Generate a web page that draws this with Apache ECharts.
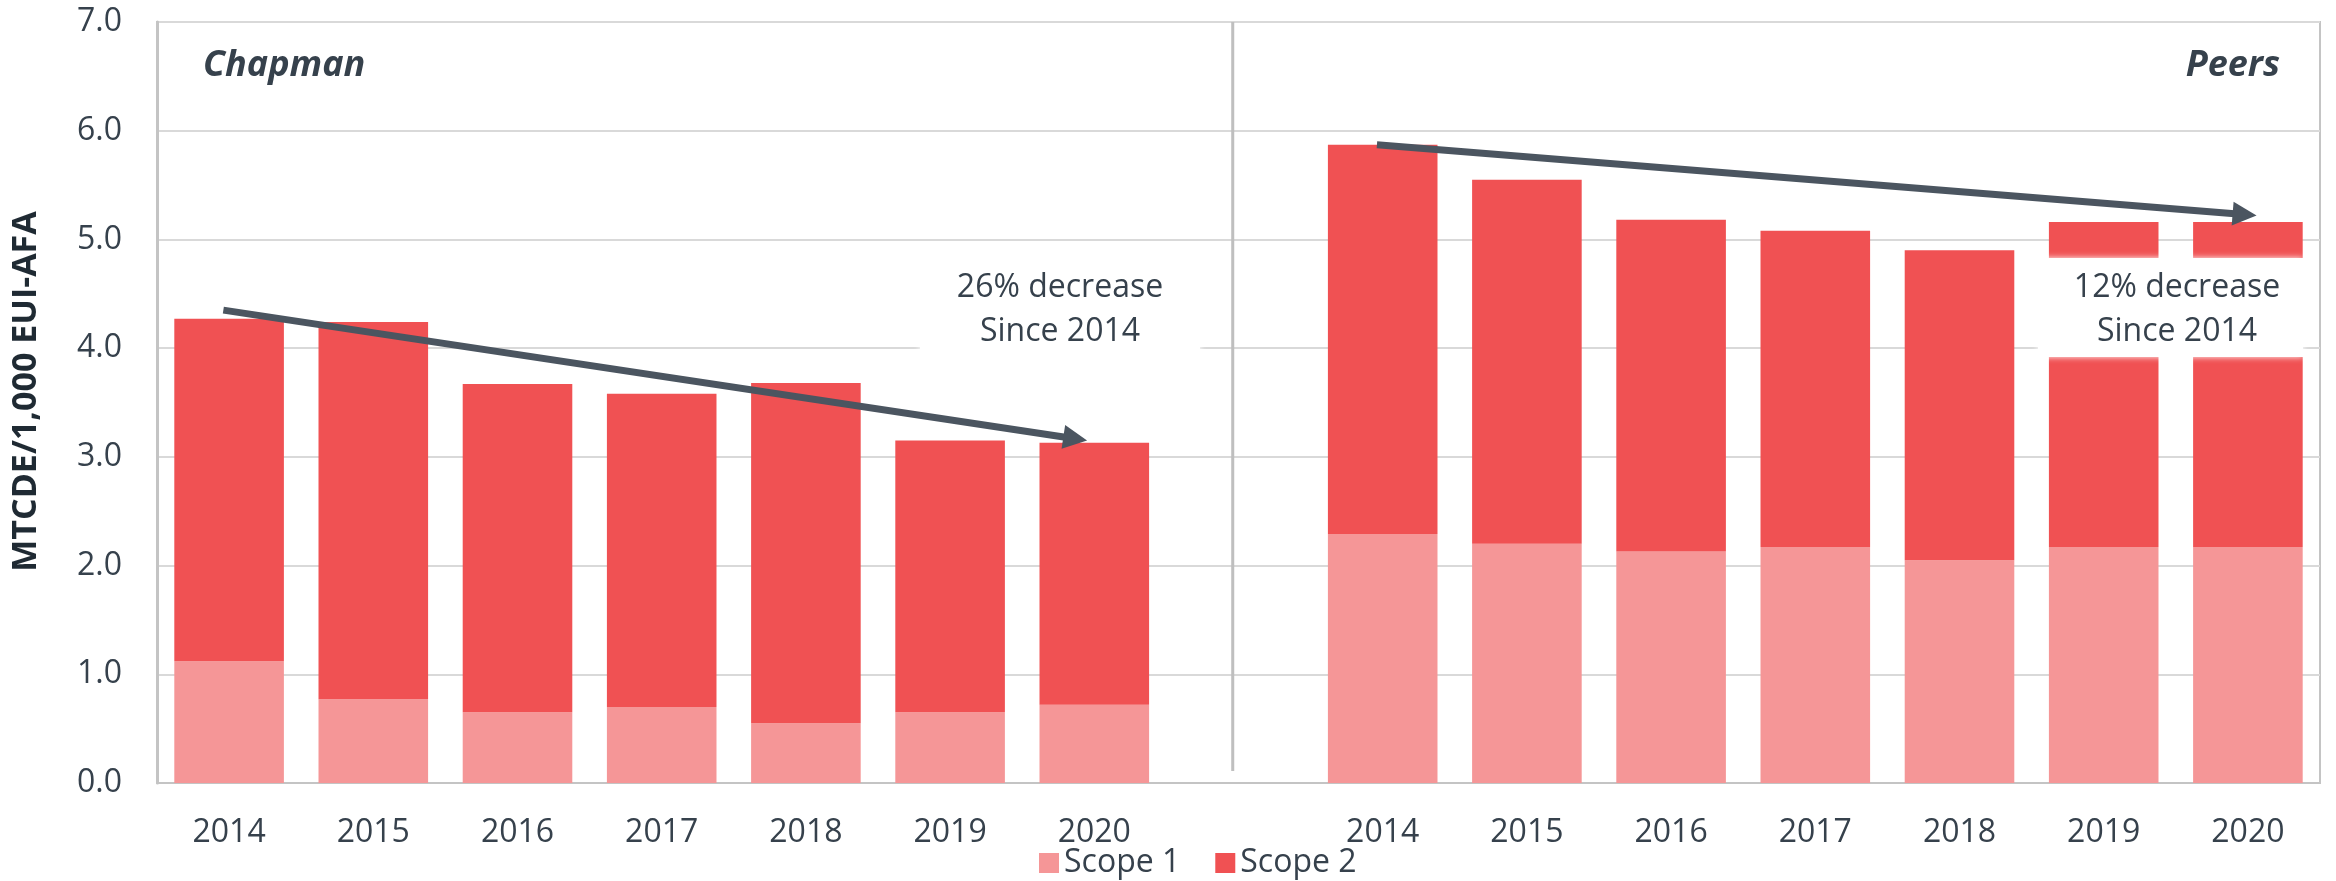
<!DOCTYPE html>
<html lang="en">
<head>
    <meta charset="UTF-8">
    <title>Scope 1 and Scope 2 emissions</title>
    <script src="https://cdn.jsdelivr.net/npm/echarts@6.0.0/dist/echarts.min.js"></script>
    <style>
        html, body { margin: 0; padding: 0; background: #fff; }
        #chart { width: 2336px; height: 881px; }
    </style>
</head>
<body>
    <div id="chart"></div>
    <script>
        // values
        var years = ['2014', '2015', '2016', '2017', '2018', '2019', '2020'];
        var chapmanScope1 = [1.12, 0.77, 0.65, 0.70, 0.55, 0.65, 0.72];
        var chapmanScope2 = [3.15, 3.47, 3.02, 2.88, 3.13, 2.50, 2.41];
        var peersScope1 = [2.29, 2.20, 2.13, 2.17, 2.05, 2.17, 2.17];
        var peersScope2 = [3.58, 3.35, 3.05, 2.91, 2.85, 2.99, 2.99];
        var yMin = 0, yMax = 7, yStep = 1;
        // trend arrows [slotFrom, valueFrom, slotTo, valueTo] on the hidden value x axis
        var chapmanTrend = [-0.04, 4.35, 5.95, 3.15];
        var peersTrend = [7.96, 5.87, 14.06, 5.22];
        var dividerLine = [6.96, 7, 6.96, 0.11];

        var textColor = '#36414C';
        var arrowColor = '#4B5560';
        var font = 'Open Sans';

        // one category axis: chapman years, a blank slot, peers years
        var categories = years.concat([''], years);
        var scope1 = chapmanScope1.concat([null], peersScope1);
        var scope2 = chapmanScope2.concat([null], peersScope2);

        var chart = echarts.init(document.getElementById('chart'));

        function renderArrow(params, api) {
            var p1 = api.coord([api.value(0), api.value(1)]);
            var p2 = api.coord([api.value(2), api.value(3)]);
            var dx = p2[0] - p1[0], dy = p2[1] - p1[1];
            var len = Math.sqrt(dx * dx + dy * dy);
            var ux = dx / len, uy = dy / len;
            var head = 24, half = 12;
            var bx = p2[0] - ux * head, by = p2[1] - uy * head;
            return {
                type: 'group',
                children: [{
                    type: 'line',
                    shape: { x1: p1[0], y1: p1[1], x2: bx + ux * 2, y2: by + uy * 2 },
                    style: { stroke: arrowColor, lineWidth: 7 }
                }, {
                    type: 'polygon',
                    shape: { points: [p2, [bx - uy * half, by + ux * half], [bx + uy * half, by - ux * half]] },
                    style: { fill: arrowColor }
                }]
            };
        }

        function renderDivider(params, api) {
            var p1 = api.coord([api.value(0), api.value(1)]);
            var p2 = api.coord([api.value(2), api.value(3)]);
            return {
                type: 'line',
                shape: { x1: p1[0], y1: p1[1], x2: p2[0], y2: p2[1] },
                style: { stroke: '#BFBFBF', lineWidth: 3 }
            };
        }

        var option = {
            animation: false,
            textStyle: { fontFamily: font },
            grid: {
                left: 157, right: 16, top: 22, bottom: 98,
                show: true, borderColor: '#C4C4C4', borderWidth: 2
            },
            legend: {
                data: ['Scope 1', 'Scope 2'],
                left: 1039, top: 847, padding: 0,
                itemWidth: 20, itemHeight: 20, itemGap: 35,
                icon: 'rect',
                textStyle: { fontSize: 32, color: textColor, fontFamily: font }
            },
            xAxis: [{
                type: 'category',
                data: categories,
                axisTick: { show: false },
                axisLine: { onZero: false, lineStyle: { color: '#C4C4C4', width: 2 } },
                axisLabel: { fontSize: 32, color: textColor, margin: 34, interval: 0 }
            }, {
                type: 'value',
                min: -0.5, max: 14.5,
                show: false
            }],
            yAxis: {
                type: 'value',
                min: yMin, max: yMax, interval: yStep,
                name: 'MTCDE/1,000 EUI-AFA',
                nameLocation: 'middle',
                nameGap: 114,
                nameTextStyle: {
                    fontSize: 34, fontWeight: 'bold', color: '#1F2A33',
                    padding: [0, 0, 0, 22]
                },
                axisLine: { show: true, onZero: false, lineStyle: { color: '#C4C4C4', width: 3 } },
                axisTick: { show: false },
                splitLine: { lineStyle: { color: '#D9D9D9', width: 2 } },
                axisLabel: {
                    fontSize: 32, color: textColor, margin: 35,
                    formatter: function (v) { return v.toFixed(1); }
                }
            },
            series: [{
                name: 'Scope 1',
                type: 'bar',
                stack: 'total',
                barWidth: '76%',
                itemStyle: { color: '#F59697' },
                data: scope1
            }, {
                name: 'Scope 2',
                type: 'bar',
                stack: 'total',
                barWidth: '76%',
                itemStyle: { color: '#F05153' },
                data: scope2
            }, {
                name: 'divider',
                type: 'custom',
                xAxisIndex: 1,
                silent: true,
                encode: { x: [0, 2], y: [1, 3] },
                renderItem: renderDivider,
                data: [dividerLine],
                z: 3
            }, {
                name: 'trend',
                type: 'custom',
                xAxisIndex: 1,
                silent: true,
                encode: { x: [0, 2], y: [1, 3] },
                renderItem: renderArrow,
                data: [chapmanTrend, peersTrend],
                z: 5
            }],
            graphic: [{
                type: 'text', left: 203, top: 48, z: 100,
                style: { text: 'Chapman', font: 'italic bold 36px "Open Sans"', fill: textColor }
            }, {
                type: 'text', right: 56, top: 48, z: 100,
                style: { text: 'Peers', font: 'italic bold 36px "Open Sans"', fill: textColor }
            }, {
                type: 'rect', z: 100,
                shape: { x: 920, y: 252, width: 280, height: 110 },
                style: { fill: '#fff', shadowBlur: 6, shadowColor: '#fff' }
            }, {
                type: 'text', z: 101, x: 1060, y: 310,
                style: {
                    text: '26% decrease\nSince 2014', fill: textColor,
                    font: '32px "Open Sans"', lineHeight: 44,
                    textAlign: 'center', textVerticalAlign: 'middle'
                }
            }, {
                type: 'rect', z: 100,
                shape: { x: 2038, y: 258, width: 265, height: 99 },
                style: { fill: '#fff', shadowBlur: 6, shadowColor: '#fff' }
            }, {
                type: 'text', z: 101, x: 2177, y: 310,
                style: {
                    text: '12% decrease\nSince 2014', fill: textColor,
                    font: '32px "Open Sans"', lineHeight: 44,
                    textAlign: 'center', textVerticalAlign: 'middle'
                }
            }]
        };
        chart.setOption(option);
    </script>
</body>
</html>
